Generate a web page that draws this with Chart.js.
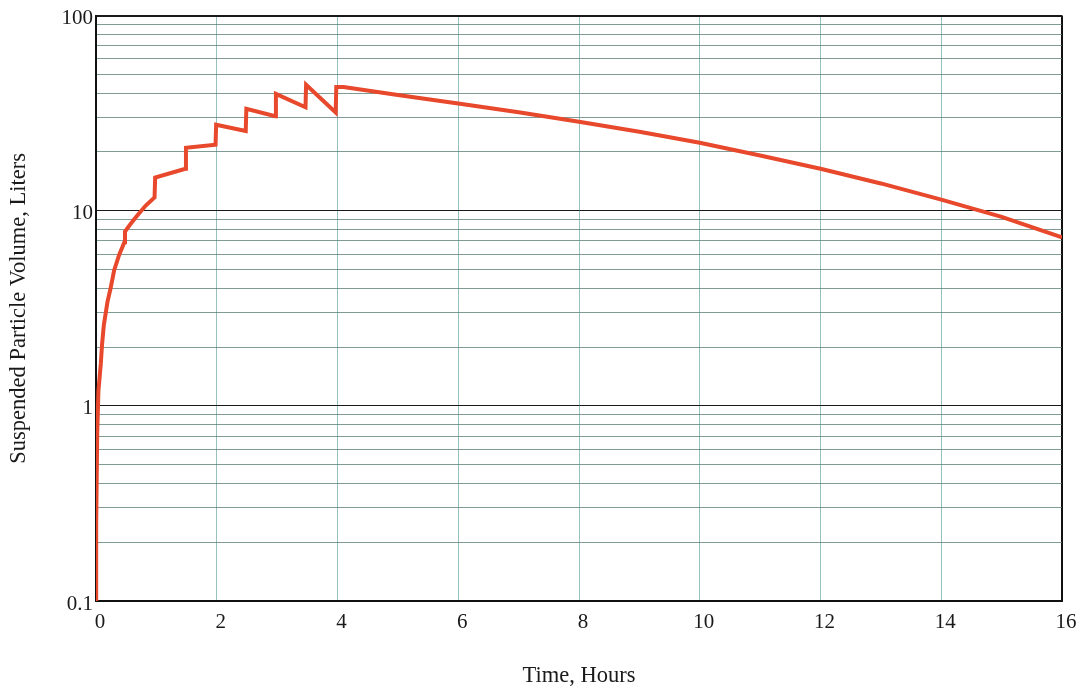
<!DOCTYPE html>
<html>
<head>
    <meta charset="utf-8">
    <title>Suspended Particle Volume vs Time</title>
    <script src="https://cdn.jsdelivr.net/npm/chart.js"></script>
    <style>
        body { margin: 0; background: #fff; }
        .container { width: 1088px; height: 693px; position: relative; }
    </style>
</head>
<body>
    <div class="container">
        <canvas id="volumeChart"></canvas>
    </div>
    <script>
        // Values
        const timeHours = [
            0, 0.003, 0.02, 0.04, 0.08, 0.10, 0.13, 0.19, 0.24, 0.30, 0.38, 0.47,
            0.48, 0.55, 0.66, 0.82, 0.97,
            0.98, 1.48,
            1.49, 1.98,
            1.99, 2.48,
            2.49, 2.97,
            2.98, 3.47,
            3.48, 3.97,
            3.98, 4.1, 5, 6, 7, 8, 9, 10, 11, 12, 13, 14, 15, 16
        ];
        const volumeLiters = [
            0.1, 0.25, 0.72, 1.19, 1.65, 2.06, 2.6, 3.41, 3.98, 4.94, 5.9, 6.89,
            7.82, 8.38, 9.25, 10.6, 11.7,
            14.8, 16.4,
            21.0, 21.8,
            27.6, 25.6,
            33.3, 30.5,
            39.7, 33.9,
            44.2, 31.9,
            43.0, 43.0, 39.2, 35.4, 32.0, 28.6, 25.4, 22.3, 19.2, 16.4, 13.8, 11.4, 9.3, 7.3
        ];

        const xTickValues = [0, 2, 4, 6, 8, 10, 12, 14, 16];
        const yGridValues = [
            0.1, 0.2, 0.3, 0.4, 0.5, 0.6, 0.7, 0.8, 0.9,
            1, 2, 3, 4, 5, 6, 7, 8, 9,
            10, 20, 30, 40, 50, 60, 70, 80, 90, 100
        ];
        const yDecades = [0.1, 1, 10, 100];
        const yTickLabels = ['0.1', '1', '10', '100'];

        const points = timeHours.map((t, i) => ({ x: t, y: volumeLiters[i] }));

        const serif = 'Liberation Serif';
        const minorGrid = 'rgba(85,120,115,0.75)';

        new Chart(document.getElementById('volumeChart'), {
            type: 'line',
            data: {
                datasets: [{
                    label: 'Suspended Particle Volume',
                    data: points,
                    borderColor: '#e8482b',
                    borderWidth: 4,
                    pointRadius: 0,
                    tension: 0,
                    fill: false
                }]
            },
            options: {
                responsive: true,
                maintainAspectRatio: false,
                animation: false,
                layout: { padding: { top: 12, right: 26, left: 0, bottom: 0 } },
                plugins: {
                    legend: { display: false },
                    tooltip: { enabled: false }
                },
                scales: {
                    x: {
                        type: 'linear',
                        min: 0,
                        max: 16,
                        afterBuildTicks: axis => {
                            axis.ticks = xTickValues.map(v => ({ value: v }));
                        },
                        afterFit: axis => { axis.height = 92; },
                        border: { color: '#111', width: 2 },
                        grid: {
                            drawTicks: false,
                            color: ctx => ctx.tick && ctx.tick.value === 16 ? '#111' : 'rgba(95,160,155,0.65)',
                            lineWidth: ctx => ctx.tick && ctx.tick.value === 16 ? 2 : 1
                        },
                        ticks: {
                            autoSkip: false,
                            maxRotation: 0,
                            padding: 9,
                            labelOffset: 4,
                            color: '#1a1a1a',
                            font: { family: serif, size: 21 }
                        },
                        title: {
                            display: true,
                            text: 'Time, Hours',
                            color: '#1a1a1a',
                            font: { family: serif, size: 22.5 },
                            padding: { top: 0, bottom: 3 }
                        }
                    },
                    y: {
                        type: 'logarithmic',
                        min: 0.1,
                        max: 100,
                        afterBuildTicks: axis => {
                            axis.ticks = yGridValues.map(v => ({ value: v }));
                        },
                        afterFit: axis => { axis.width = 96; },
                        border: { color: '#111', width: 2 },
                        grid: {
                            drawTicks: false,
                            color: ctx => {
                                if (!ctx.tick) return minorGrid;
                                return yDecades.includes(ctx.tick.value) ? '#1a1a1a' : minorGrid;
                            },
                            lineWidth: ctx => ctx.tick && ctx.tick.value === 100 ? 2 : 1
                        },
                        ticks: {
                            autoSkip: false,
                            padding: 3,
                            labelOffset: 3,
                            color: '#1a1a1a',
                            font: { family: serif, size: 21 },
                            callback: value => {
                                const i = yDecades.indexOf(value);
                                return i >= 0 ? yTickLabels[i] : '';
                            }
                        },
                        title: {
                            display: true,
                            text: 'Suspended Particle Volume, Liters',
                            color: '#1a1a1a',
                            font: { family: serif, size: 22.5 },
                            padding: { top: 6, bottom: 0 }
                        }
                    }
                }
            }
        });
    </script>
</body>
</html>
